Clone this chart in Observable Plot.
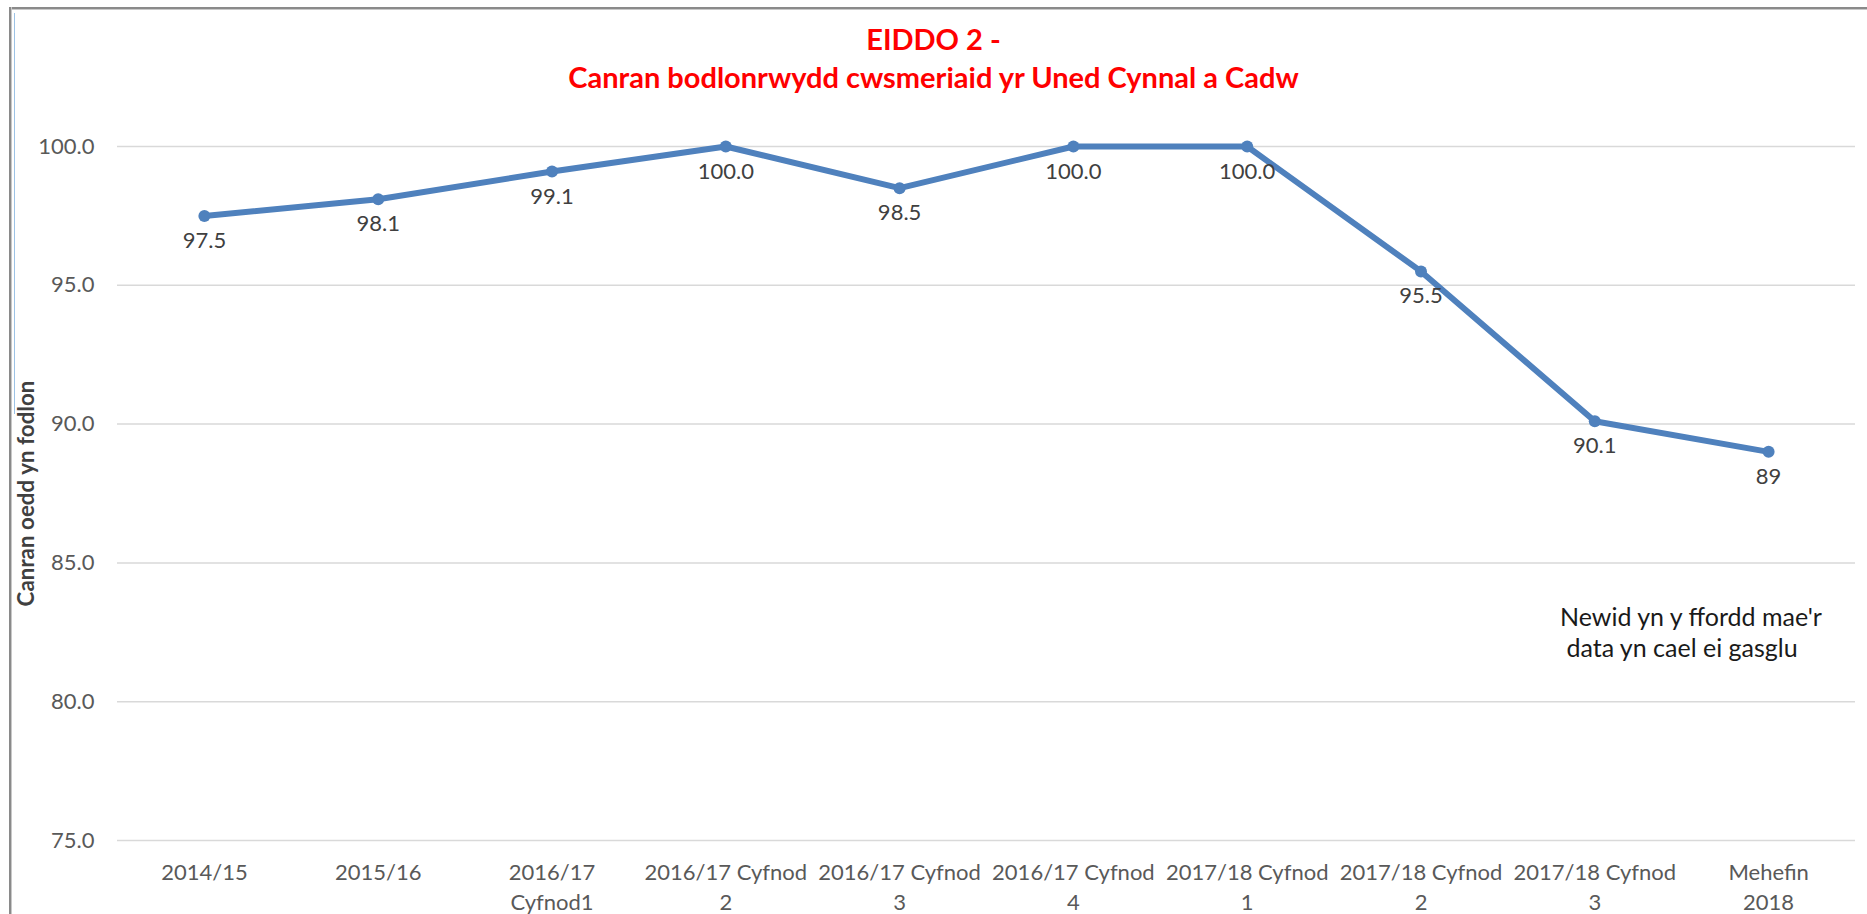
<!DOCTYPE html>
<html>
<head>
<meta charset="utf-8">
<script src="https://cdn.jsdelivr.net/npm/d3@7"></script>
<script src="https://cdn.jsdelivr.net/npm/@observablehq/plot@0.6"></script>
<style>
  html, body { margin: 0; padding: 0; background: #fff; }
  body { width: 1867px; height: 914px; position: relative; overflow: hidden; font-family: Lato, "Noto Sans", sans-serif; }
  #title { box-sizing: border-box; height: 100px; padding-top: 20px; text-align: center; color: #ff0000; font-weight: bold; font-size: 29px; line-height: 37.5px; }
  #chart svg { display: block; }
  .frame-top { position: absolute; left: 9px; top: 7px; right: 0; height: 2px; background: #8a8a8a; border-bottom: 1px solid #c8c8c8; }
  .frame-left { position: absolute; left: 9px; top: 7px; bottom: 0; width: 2px; background: #8a8a8a; border-right: 1px solid #c8c8c8; }
  .sel-line { position: absolute; left: 14px; top: 13px; height: 401px; width: 1px; background: #9dc3e6; }
</style>
</head>
<body>
<div class="frame-top"></div>
<div class="frame-left"></div>
<div class="sel-line"></div>
<div id="title"><div>EIDDO 2 -</div><div>Canran bodlonrwydd cwsmeriaid yr Uned Cynnal a Cadw</div></div>
<div id="chart"></div>
<script>
const categories = [
  "2014/15",
  "2015/16",
  "2016/17\nCyfnod1",
  "2016/17 Cyfnod\n2",
  "2016/17 Cyfnod\n3",
  "2016/17 Cyfnod\n4",
  "2017/18 Cyfnod\n1",
  "2017/18 Cyfnod\n2",
  "2017/18 Cyfnod\n3",
  "Mehefin\n2018"
];
const values = [97.5, 98.1, 99.1, 100.0, 98.5, 100.0, 100.0, 95.5, 90.1, 89];
const valueLabels = ["97.5", "98.1", "99.1", "100.0", "98.5", "100.0", "100.0", "95.5", "90.1", "89"];
const yTicks = [75, 80, 85, 90, 95, 100];
const yLabel = "Canran oedd yn fodlon";
const noteText = ["Newid yn y ffordd mae'r\n\u00a0data yn cael ei gasglu"];
const noteX = [7.8];
const noteY = [82.52];

const data = values.map((v, i) => ({i, v, label: valueLabels[i]}));
const note = noteText.map((t, k) => ({t, x: noteX[k], y: noteY[k]}));

const chart = Plot.plot({
  width: 1867,
  height: 814,
  marginLeft: 117,
  marginRight: 12,
  marginTop: 46,
  marginBottom: 74,
  style: {fontFamily: "Lato, 'Noto Sans', sans-serif", fontSize: "22px", background: "transparent"},
  x: {type: "linear", domain: [-0.5, 9.5], axis: null},
  y: {domain: [75, 100], axis: null},
  marks: [
    Plot.ruleY(yTicks, {stroke: "#d9d9d9", strokeWidth: 1.5}),
    Plot.axisY({ticks: yTicks, tickFormat: d3.format(".1f"), tickSize: 0, tickPadding: 23, fontSize: 22, color: "#595959", label: null}),
    Plot.axisX({ticks: d3.range(categories.length), tickFormat: i => categories[i], tickSize: 0, tickPadding: 18, fontSize: 22, lineHeight: 1.36, color: "#595959", label: null}),
    Plot.text([yLabel], {frameAnchor: "left", textAnchor: "middle", rotate: -90, dx: -91, text: d => d, fontSize: 22.4, fontWeight: "bold", fill: "#404040"}),
    Plot.line(data, {x: "i", y: "v", stroke: "#4f81bd", strokeWidth: 6, strokeLinejoin: "round", strokeLinecap: "round"}),
    Plot.dot(data, {x: "i", y: "v", r: 6, fill: "#4f81bd", stroke: null}),
    Plot.text(data, {x: "i", y: "v", text: "label", dy: 25, fontSize: 22, fill: "#404040"}),
    Plot.text(note, {x: "x", y: "y", text: "t", textAnchor: "start", fontSize: 25, lineHeight: 1.24, fill: "#1a1a1a"})
  ]
});
document.getElementById("chart").appendChild(chart);
</script>
</body>
</html>
